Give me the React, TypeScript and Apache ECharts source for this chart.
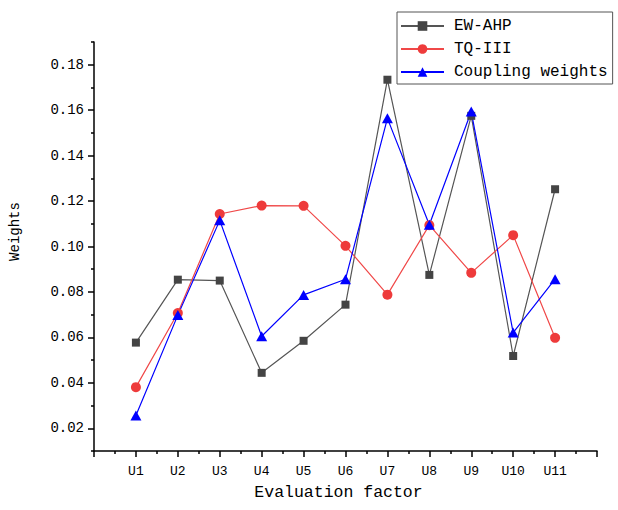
import React, { useEffect, useRef } from "react";
import * as echarts from "echarts";

const categories = ["U1", "U2", "U3", "U4", "U5", "U6", "U7", "U8", "U9", "U10", "U11"];
const ewAhp = [0.0577, 0.0854, 0.085, 0.0444, 0.0585, 0.0744, 0.1734, 0.0875, 0.1575, 0.0518, 0.1252];
const tqIII = [0.0381, 0.0707, 0.1143, 0.118, 0.1179, 0.1003, 0.0788, 0.1094, 0.0884, 0.105, 0.0598];
const coupling = [0.0256, 0.0698, 0.1115, 0.0605, 0.0787, 0.0856, 0.1564, 0.1096, 0.1594, 0.0621, 0.0856];
const yTicks = [0.02, 0.04, 0.06, 0.08, 0.1, 0.12, 0.14, 0.16, 0.18];
const yMinorTicks = [0.01, 0.03, 0.05, 0.07, 0.09, 0.11, 0.13, 0.15, 0.17, 0.19];

const FONT = "'Liberation Mono', 'DejaVu Sans Mono', monospace";

export default function App() {
  const ref = useRef<HTMLDivElement>(null);
  useEffect(() => {
    if (!ref.current) return;
    document.body.style.margin = "0";
    const chart = echarts.init(ref.current, null, { renderer: "svg" });
    const toPairs = (arr: number[]) => arr.map((v, i) => [i + 1, v]);
    chart.setOption({
      animation: false,
      backgroundColor: "#ffffff",
      textStyle: { fontFamily: FONT, color: "#000" },
      grid: { left: 92, right: 21, top: 42, bottom: 59, containLabel: false },
      legend: {
        orient: "vertical",
        left: 397,
        top: 12,
        itemWidth: 43,
        itemHeight: 12,
        itemGap: 7,
        padding: [6, 5, 4, 3],
        borderColor: "#555",
        borderWidth: 1,
        textStyle: { fontFamily: FONT, fontSize: 16, color: "#000", padding: [0, 0, 0, 5] },
        data: ["EW-AHP", "TQ-III", "Coupling weights"],
      },
      xAxis: {
        type: "value",
        min: 0,
        max: 12,
        interval: 1,
        name: "Evaluation factor",
        nameLocation: "middle",
        nameGap: 33,
        nameTextStyle: { fontFamily: FONT, fontSize: 16.5, color: "#000", padding: [0, 14, 0, 0] },
        axisLine: { show: true, lineStyle: { color: "#000", width: 1.5 } },
        axisTick: { show: true, length: 6, lineStyle: { color: "#000", width: 1.5 } },
        minorTick: { show: true, splitNumber: 2, length: 3, lineStyle: { color: "#000", width: 1.5 } },
        axisLabel: {
          margin: 14,
          fontFamily: FONT,
          fontSize: 13,
          color: "#000",
          formatter: (v: number) => (v >= 1 && v <= categories.length ? categories[v - 1] : ""),
        },
        splitLine: { show: false },
        minorSplitLine: { show: false },
      },
      yAxis: [
        {
          type: "value",
          min: 0.01,
          max: 0.19,
          name: "Weights",
          nameLocation: "middle",
          nameGap: 72,
          nameRotate: 90,
          nameTextStyle: { fontFamily: FONT, fontSize: 14, color: "#000", padding: [0, 0, 0, 30] },
          axisLine: { show: true, lineStyle: { color: "#000", width: 1.5 } },
          axisTick: { show: true, length: 6, customValues: yTicks, lineStyle: { color: "#000", width: 1.5 } },
          axisLabel: {
            margin: 10,
            fontFamily: FONT,
            fontSize: 14,
            color: "#000",
            customValues: yTicks,
            formatter: (v: number) => v.toFixed(2),
          },
          splitLine: { show: false },
        },
        {
          type: "value",
          min: 0.01,
          max: 0.19,
          position: "left",
          axisLine: { show: false },
          axisTick: { show: true, length: 3, customValues: yMinorTicks, lineStyle: { color: "#000", width: 1.5 } },
          axisLabel: { show: false },
          splitLine: { show: false },
        },
      ],
      series: [
        {
          name: "EW-AHP",
          type: "line",
          data: toPairs(ewAhp),
          symbol: "rect",
          symbolSize: 8,
          itemStyle: { color: "#444444" },
          lineStyle: { color: "#555555", width: 1.2 },
        },
        {
          name: "TQ-III",
          type: "line",
          data: toPairs(tqIII),
          symbol: "circle",
          symbolSize: 10,
          itemStyle: { color: "#ee3b3b" },
          lineStyle: { color: "#f04848", width: 1.2 },
        },
        {
          name: "Coupling weights",
          type: "line",
          data: toPairs(coupling),
          symbol: "triangle",
          symbolSize: [11, 10],
          itemStyle: { color: "#0000ff" },
          lineStyle: { color: "#0000ff", width: 1.2 },
        },
      ],
    });
    return () => chart.dispose();
  }, []);
  return <div ref={ref} style={{ width: 618, height: 510 }} />;
}
